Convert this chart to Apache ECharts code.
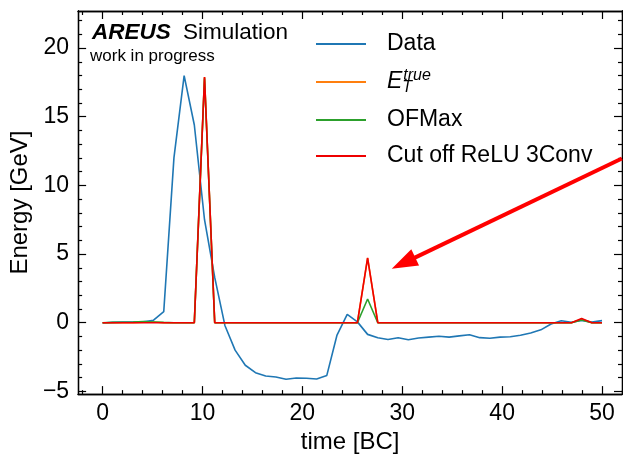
<!DOCTYPE html>
<html>
<head>
<meta charset="utf-8">
<script src="https://cdn.jsdelivr.net/npm/echarts@6/dist/echarts.min.js"></script>
<style>html,body{margin:0;padding:0;background:#fff;}#c{width:623px;height:459px;}</style>
</head>
<body>
<div id="c"></div>
<script>
// time axis: 50 samples between 0 and 50 BC
const timeBC = [0, 1.0204, 2.0408, 3.0612, 4.0816, 5.102, 6.1224, 7.1429, 8.1633, 9.1837,
  10.2041, 11.2245, 12.2449, 13.2653, 14.2857, 15.3061, 16.3265, 17.3469, 18.3673, 19.3878,
  20.4082, 21.4286, 22.449, 23.4694, 24.4898, 25.5102, 26.5306, 27.551, 28.5714, 29.5918,
  30.6122, 31.6327, 32.6531, 33.6735, 34.6939, 35.7143, 36.7347, 37.7551, 38.7755, 39.7959,
  40.8163, 41.8367, 42.8571, 43.8776, 44.898, 45.9184, 46.9388, 47.9592, 48.9796, 50];

const dataValues = [-0.02, 0.02, 0.04, 0.05, 0.07, 0.18, 0.8, 12.0, 18.0, 14.4,
  7.5, 3.3, -0.2, -2.0, -3.1, -3.64, -3.88, -3.95, -4.12, -4.03,
  -4.05, -4.1, -3.84, -0.9, 0.6, 0.06, -0.85, -1.09, -1.22, -1.1,
  -1.24, -1.12, -1.05, -0.99, -1.05, -0.96, -0.88, -1.09, -1.13, -1.05,
  -1.02, -0.92, -0.75, -0.52, -0.1, 0.14, 0.03, 0.17, 0.04, 0.15];

const etTrue = [0, 0, 0, 0, 0.03, 0.05, 0, 0, 0, 0,
  17.9, 0, 0, 0, 0, 0, 0, 0, 0, 0,
  0, 0, 0, 0, 0, 0, 4.7, 0, 0, 0,
  0, 0, 0, 0, 0, 0, 0, 0, 0, 0,
  0, 0, 0, 0, 0, 0, 0, 0.25, 0, 0];

const ofMax = [0, 0.02, 0.03, 0.05, 0.08, 0.05, 0.02, 0, 0, 0,
  17.8, 0, 0, 0, 0, 0, 0, 0, 0, 0,
  0, 0, 0, 0, 0, 0, 1.73, 0, 0, 0,
  0, 0, 0, 0, 0, 0, 0, 0, 0, 0,
  0, 0, 0, 0, 0, 0, 0, 0.2, 0, 0];

const reluCut = [0, 0, 0, 0, 0, 0, 0, 0, 0, 0,
  17.9, 0, 0, 0, 0, 0, 0, 0, 0, 0,
  0, 0, 0, 0, 0, 0, 4.72, 0, 0, 0,
  0, 0, 0, 0, 0, 0, 0, 0, 0, 0,
  0, 0, 0, 0, 0, 0, 0, 0.3, 0, 0];

const xMajor = [0, 10, 20, 30, 40, 50];
const xMinor = [-2, 2, 4, 6, 8, 12, 14, 16, 18, 22, 24, 26, 28, 32, 34, 36, 38, 42, 44, 46, 48, 52];
const yMajor = [-5, 0, 5, 10, 15, 20];
const yMinor = [-4, -3, -2, -1, 1, 2, 3, 4, 6, 7, 8, 9, 11, 12, 13, 14, 16, 17, 18, 19, 21, 22];

const seriesNames = ['Data', 'E_T^true', 'OFMax', 'Cut off ReLU 3Conv'];
const seriesColors = ['#1f77b4', '#ff7f0e', '#2ca02c', '#ee0000'];
const seriesData = [dataValues, etTrue, ofMax, reluCut];

// arrow annotation (data coordinates): start, head centre
const arrowFrom = [51.99, 11.96];
const arrowTo = [30.12, 4.34];

const FONT = '"Liberation Sans", Arial, Helvetica, sans-serif';
const X_MIN = -2.45, X_MAX = 52, Y_MIN = -5.2, Y_MAX = 22.7;

function fmt(v) { return v < 0 ? '\u2212' + Math.abs(v) : String(v); }

function xAxisDef(pos, major, withLabels) {
  return {
    type: 'value', min: X_MIN, max: X_MAX, position: pos,
    axisLine: { show: true, onZero: false, lineStyle: { color: '#000', width: 1.3 } },
    axisTick: { show: true, inside: true, length: major ? 8 : 4,
      customValues: major ? xMajor : xMinor, lineStyle: { color: '#000', width: 1.2 } },
    axisLabel: { show: withLabels, customValues: xMajor, fontSize: 23, color: '#000',
      fontFamily: FONT, margin: 8, formatter: fmt },
    splitLine: { show: false },
    name: withLabels ? 'time [BC]' : '',
    nameLocation: 'middle', nameGap: 34,
    nameTextStyle: { fontSize: 24, color: '#000', fontFamily: FONT }
  };
}
function yAxisDef(pos, major, withLabels) {
  return {
    type: 'value', min: Y_MIN, max: Y_MAX, position: pos,
    axisLine: { show: true, onZero: false, lineStyle: { color: '#000', width: 1.3 } },
    axisTick: { show: true, inside: true, length: major ? 8 : 4,
      customValues: major ? yMajor : yMinor, lineStyle: { color: '#000', width: 1.2 } },
    axisLabel: { show: withLabels, customValues: yMajor, fontSize: 23, color: '#000',
      fontFamily: FONT, margin: 9, formatter: fmt },
    splitLine: { show: false },
    name: withLabels ? 'Energy [GeV]' : '',
    nameLocation: 'middle', nameGap: 32,
    nameTextStyle: { fontSize: 24, color: '#000', fontFamily: FONT }
  };
}

const series = seriesNames.map((n, k) => ({
  name: n, type: 'line', xAxisIndex: 0, yAxisIndex: 0,
  data: timeBC.map((t, i) => [t, seriesData[k][i]]),
  showSymbol: false, symbol: 'none', animation: false, clip: false,
  lineStyle: { color: seriesColors[k], width: 1.6 },
  itemStyle: { color: seriesColors[k] },
  z: 2 + k
}));

series[3].markLine = {
  silent: true, animation: false,
  symbol: ['none', 'triangle'], symbolSize: [18, 26],
  lineStyle: { color: '#ff0000', width: 4, type: 'solid' },
  itemStyle: { color: '#ff0000' },
  label: { show: false },
  emphasis: { disabled: true },
  data: [[{ coord: arrowFrom }, { coord: arrowTo }]]
};

const chart = echarts.init(document.getElementById('c'), null, { renderer: 'canvas' });
chart.setOption({
  animation: false,
  backgroundColor: '#fff',
  grid: { left: 76, right: 1, top: 11, bottom: 59, containLabel: false },
  xAxis: [xAxisDef('bottom', true, true), xAxisDef('bottom', false, false),
          xAxisDef('top', true, false), xAxisDef('top', false, false)],
  yAxis: [yAxisDef('left', true, true), yAxisDef('left', false, false),
          yAxisDef('right', true, false), yAxisDef('right', false, false)],
  legend: {
    orient: 'vertical', left: 311, top: 27, itemGap: 12,
    itemWidth: 50, itemHeight: 2, icon: 'rect', selectedMode: false,
    data: seriesNames,
    textStyle: {
      fontSize: 23, color: '#000', fontFamily: FONT, lineHeight: 24, padding: [0, 0, 0, 16],
      rich: {
        e: { fontSize: 23, fontStyle: 'italic', fontFamily: FONT, color: '#000', lineHeight: 28, verticalAlign: 'middle' },
        t: { fontSize: 16, fontStyle: 'italic', fontFamily: FONT, color: '#000', lineHeight: 16, verticalAlign: 'bottom', width: 1 },
        s: { fontSize: 16, fontStyle: 'italic', fontFamily: FONT, color: '#000', lineHeight: 16, verticalAlign: 'top' }
      }
    },
    formatter: function (name) {
      return name === 'E_T^true' ? '{e|E}{t|T}{s|true}' : name;
    }
  },
  graphic: [
    { type: 'text', x: 92, y: 33, silent: true,
      style: { text: 'AREUS', font: 'italic bold 22.5px ' + FONT, fill: '#000', verticalAlign: 'middle' } },
    { type: 'text', x: 183, y: 33, silent: true,
      style: { text: 'Simulation', font: '22.5px ' + FONT, fill: '#000', verticalAlign: 'middle' } },
    { type: 'text', x: 90, y: 56, silent: true,
      style: { text: 'work in progress', font: '17px ' + FONT, fill: '#000', verticalAlign: 'middle' } }
  ],
  series: series
});
</script>
</body>
</html>
